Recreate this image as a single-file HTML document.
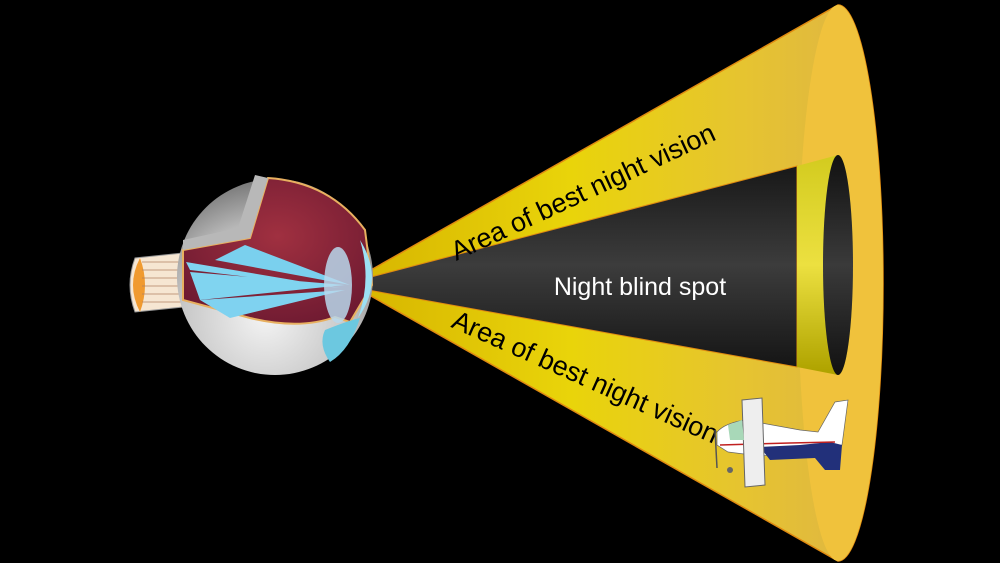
<!DOCTYPE html>
<html><head><meta charset="utf-8"><style>
html,body{margin:0;padding:0;background:#000;}
svg{display:block}
text{font-family:"Liberation Sans",Arial,sans-serif;}
</style></head><body>
<svg width="1000" height="563" viewBox="0 0 1000 563" xmlns="http://www.w3.org/2000/svg">
<defs>
<linearGradient id="yel" x1="350" y1="0" x2="840" y2="0" gradientUnits="userSpaceOnUse">
<stop offset="0" stop-color="#d6b400"/><stop offset="0.45" stop-color="#e9d40a"/><stop offset="0.8" stop-color="#e6c430"/><stop offset="1" stop-color="#e0b840"/>
</linearGradient>
<linearGradient id="dark" x1="0" y1="155" x2="0" y2="375" gradientUnits="userSpaceOnUse">
<stop offset="0" stop-color="#141414"/><stop offset="0.5" stop-color="#3c3c3c"/><stop offset="1" stop-color="#121212"/>
</linearGradient>
<linearGradient id="band" x1="0" y1="160" x2="0" y2="370" gradientUnits="userSpaceOnUse">
<stop offset="0" stop-color="#d4cc20"/><stop offset="0.5" stop-color="#ece040"/><stop offset="1" stop-color="#b0a400"/>
</linearGradient>
<linearGradient id="ihole" x1="0" y1="155" x2="0" y2="375" gradientUnits="userSpaceOnUse">
<stop offset="0" stop-color="#111"/><stop offset="0.5" stop-color="#3a3a3a"/><stop offset="1" stop-color="#111"/>
</linearGradient>
<radialGradient id="sph" cx="0.45" cy="0.7" r="0.7">
<stop offset="0" stop-color="#f4f4f4"/><stop offset="0.6" stop-color="#c8c8c8"/><stop offset="1" stop-color="#777"/>
</radialGradient>
<radialGradient id="red" cx="0.5" cy="0.4" r="0.7">
<stop offset="0" stop-color="#a03040"/><stop offset="1" stop-color="#6a1830"/>
</radialGradient>
</defs>
<rect width="1000" height="563" fill="#000"/>
<path d="M348,283 L838,5 A45,278 0 0 1 838,561 Z" fill="url(#yel)" stroke="#e08a10" stroke-width="1.5"/>
<path d="M838,5 A45,278 0 0 1 838,561 A40,278 0 0 1 838,5 Z" fill="#f0c23c"/>
<path d="M340,285 L797,166 L797,367 Z" fill="url(#dark)" stroke="#e08a10" stroke-width="1"/>
<path d="M797,166 L838,155 A15,110 0 0 1 838,375 L797,367 Z" fill="url(#band)"/>
<ellipse cx="838" cy="265" rx="15" ry="110" fill="url(#ihole)"/>
<text x="583" y="201" font-size="27" text-anchor="middle" fill="#000" transform="rotate(-25 583 192)">Area of best night vision</text>
<text x="585" y="386" font-size="27" text-anchor="middle" fill="#000" transform="rotate(24 585 378)">Area of best night vision</text>
<text x="640" y="295" font-size="25" text-anchor="middle" fill="#fff">Night blind spot</text>
<path d="M183,253 L135,258 Q125,285 135,312 L183,307 Z" fill="#f6e6d2" stroke="#999"/>
<path d="M140,258 Q126,285 140,312 Q150,285 140,258Z" fill="#f09a30"/>
<g stroke="#b08060" stroke-width="0.7"><line x1="142" y1="262" x2="182" y2="262"/><line x1="142" y1="270" x2="182" y2="270"/><line x1="142" y1="278" x2="182" y2="278"/><line x1="142" y1="286" x2="182" y2="286"/><line x1="142" y1="294" x2="182" y2="294"/><line x1="142" y1="302" x2="182" y2="302"/></g>
<circle cx="275" cy="277" r="98" fill="url(#sph)"/>
<path d="M183,250 L250,238 L268,178 Q330,182 365,230 L372,285 L350,322 L335,317 Q300,330 250,318 L183,300 Z" fill="url(#red)" stroke="#e8b060" stroke-width="2"/>
<path d="M186,262 L340,288 L190,270 Z M190,272 L345,285 L200,300 Z" fill="#80d4f0"/>
<path d="M245,245 L350,285 L215,260 Z" fill="#7ad0ee"/>
<path d="M200,300 L345,290 L230,318 Z" fill="#7fd2f0"/>
<ellipse cx="338" cy="285" rx="14" ry="38" fill="#b8d8ec" opacity="0.85"/>
<path d="M360,240 Q385,280 358,318 Q372,280 360,240Z" fill="#9ce0f4"/>
<path d="M325,330 Q350,320 360,318 Q350,350 330,362 Q318,345 325,330Z" fill="#6cc8e0"/>
<path d="M183,250 L250,238 L268,178 L255,175 L238,228 L183,240Z" fill="#b8b8b8"/>
<g>
<path d="M717,432 Q725,423 745,420 L800,430 L818,432 L835,402 L848,400 L842,445 L800,452 L760,456 L728,452 L717,445 Z" fill="#fff" stroke="#666" stroke-width="0.7"/>
<path d="M760,447 L800,445 L830,442 L842,445 L840,470 L825,470 L815,458 L770,460Z" fill="#22307a"/>
<path d="M720,445 L790,443 L835,442" stroke="#c02020" stroke-width="1.5" fill="none"/>
<path d="M742,400 L762,398 L765,485 L745,487 Z" fill="#eee" stroke="#666"/>
<path d="M728,425 L742,420 L744,440 L730,440Z" fill="#a8d8b8"/>
<line x1="715" y1="430" x2="717" y2="468" stroke="#555" stroke-width="1.5"/>
<circle cx="730" cy="470" r="3" fill="#666"/>
</g>
</svg>
</body></html>
